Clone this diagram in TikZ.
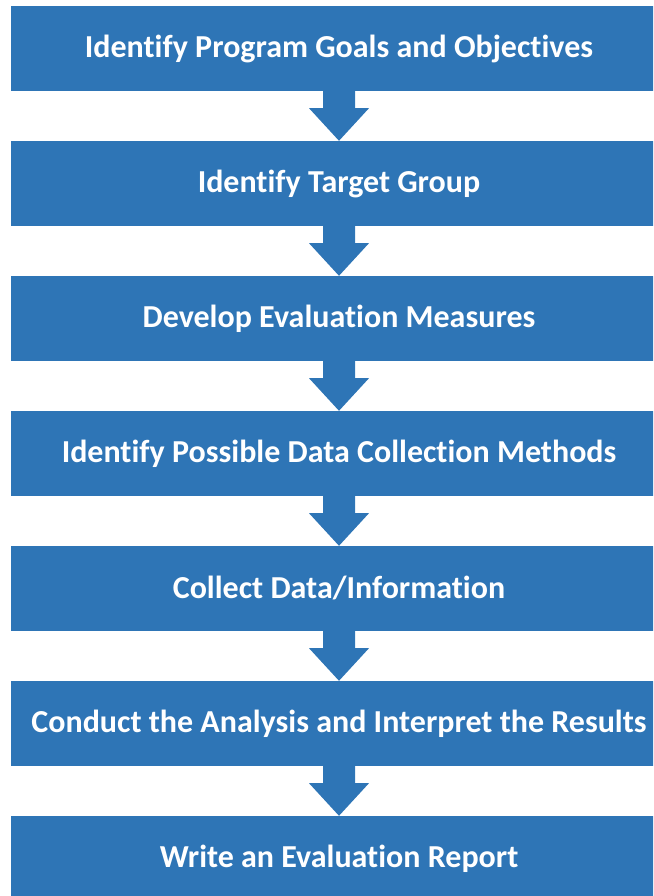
\documentclass[tikz,border=0pt]{standalone}
\usepackage{fontspec}
\setmainfont{Carlito}[Ligatures=NoCommon]
\usetikzlibrary{calc}
\definecolor{stepblue}{HTML}{2E75B6}
% block arrow from the bottom of one step to the top of the next
\newcommand\steparrow[2]{%
  \fill[stepblue] ($(#1.south)+(-16,0)$) -- ($(#1.south)+(-16,-17)$)
    -- ($(#1.south)+(-30,-17)$) -- (#2.north) -- ($(#1.south)+(30,-17)$)
    -- ($(#1.south)+(16,-17)$) -- ($(#1.south)+(16,0)$) -- cycle;}
\begin{document}
\begin{tikzpicture}[x=1pt,y=1pt,
  stepbox/.style={fill=stepblue, minimum width=656pt, minimum height=85pt,
    inner sep=0pt, text=white, font=\bfseries\fontsize{32}{36}\selectfont}]
\useasboundingbox (0,0) rectangle (653,896);
\clip (0,0) rectangle (653,896);
\node[stepbox] (s1) at (339,847.5) {Identify Program Goals and Objectives};
\node[stepbox] (s2) at (339,712.5) {Identify Target Group};
\node[stepbox] (s3) at (339,577.5) {Develop Evaluation Measures};
\node[stepbox] (s4) at (339,442.5) {Identify Possible Data Collection Methods};
\node[stepbox] (s5) at (339,307.5) {Collect Data/Information};
\node[stepbox] (s6) at (339,172.5) {Conduct the Analysis and Interpret the Results};
\node[stepbox] (s7) at (339,37.5) {Write an Evaluation Report};
\steparrow{s1}{s2}
\steparrow{s2}{s3}
\steparrow{s3}{s4}
\steparrow{s4}{s5}
\steparrow{s5}{s6}
\steparrow{s6}{s7}
\end{tikzpicture}
\end{document}
